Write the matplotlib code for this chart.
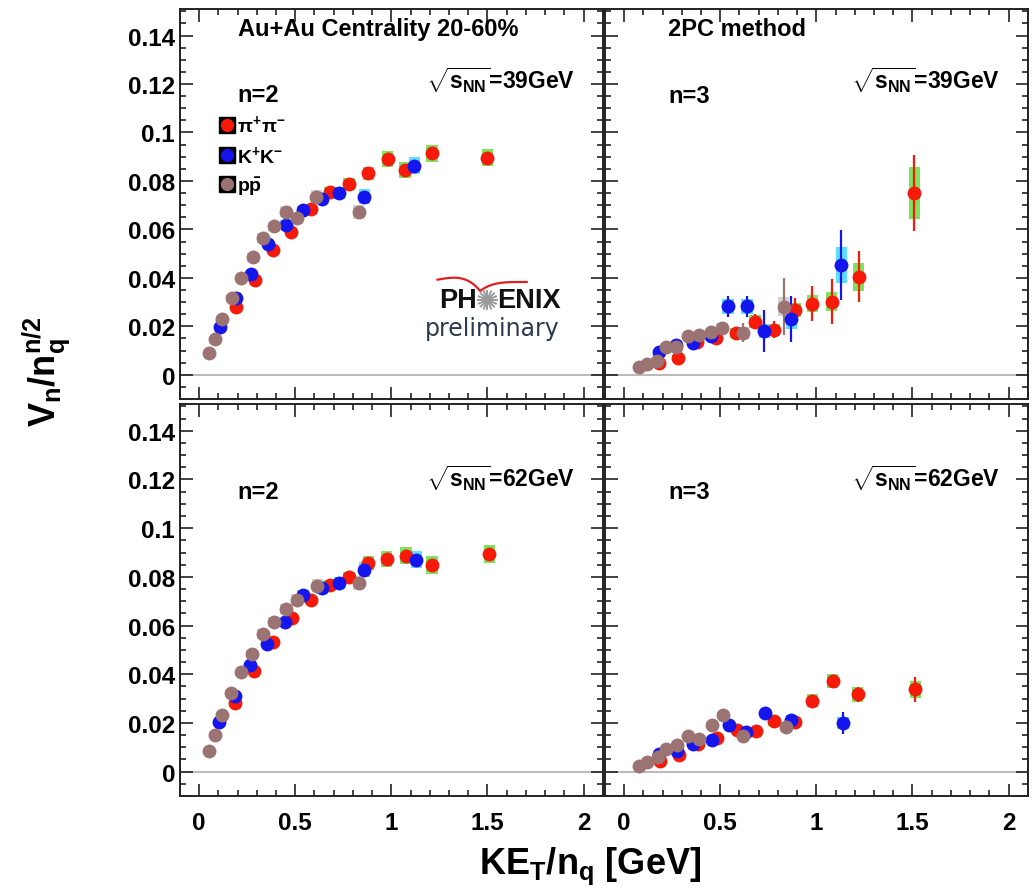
import numpy as np
import matplotlib
matplotlib.use('Agg')
import matplotlib.pyplot as plt
from matplotlib.ticker import MultipleLocator, FuncFormatter
from matplotlib.lines import Line2D
from matplotlib.legend_handler import HandlerTuple

plt.rcParams['font.family'] = ['Liberation Sans', 'DejaVu Sans']
plt.rcParams['font.weight'] = 'bold'
plt.rcParams['mathtext.fontset'] = 'custom'
plt.rcParams['mathtext.rm'] = 'Liberation Sans:bold'
plt.rcParams['mathtext.it'] = 'Liberation Sans:bold'
plt.rcParams['mathtext.bf'] = 'Liberation Sans:bold'

# ---- 39 GeV, n=2 ----
pi39_2_x = [0.19, 0.29, 0.385, 0.48, 0.58, 0.68, 0.78, 0.88, 0.98, 1.07, 1.21, 1.50]
pi39_2_y = [0.0279, 0.0392, 0.0513, 0.0591, 0.0683, 0.0756, 0.0788, 0.0831, 0.0891, 0.0845, 0.0914, 0.0896]
pi39_2_err = [0.0005, 0.0005, 0.0006, 0.0006, 0.0007, 0.0008, 0.0009, 0.001, 0.0012, 0.0014, 0.0018, 0.0025]
pi39_2_sys = [0.001, 0.0012, 0.0014, 0.0016, 0.0018, 0.002, 0.0024, 0.0028, 0.0032, 0.0034, 0.0036, 0.0036]
k39_2_x = [0.11, 0.19, 0.27, 0.36, 0.45, 0.54, 0.64, 0.73, 0.86, 1.12]
k39_2_y = [0.0199, 0.0316, 0.0415, 0.054, 0.062, 0.0678, 0.0726, 0.0749, 0.0735, 0.0863]
k39_2_err = [0.0005, 0.0005, 0.0006, 0.0007, 0.0008, 0.0009, 0.001, 0.0012, 0.0015, 0.002]
k39_2_sys = [0.001, 0.0012, 0.0014, 0.0016, 0.0018, 0.002, 0.0022, 0.0025, 0.003, 0.0035]
p39_2_x = [0.05, 0.08, 0.12, 0.17, 0.22, 0.28, 0.33, 0.39, 0.45, 0.51, 0.61, 0.83]
p39_2_y = [0.0089, 0.0147, 0.0232, 0.0316, 0.0401, 0.0485, 0.0564, 0.0612, 0.0673, 0.0646, 0.0735, 0.0671]
p39_2_err = [0.0004, 0.0005, 0.0005, 0.0006, 0.0006, 0.0007, 0.0008, 0.0009, 0.001, 0.0011, 0.0013, 0.002]
p39_2_sys = [0.0008, 0.001, 0.0012, 0.0014, 0.0016, 0.0018, 0.002, 0.002, 0.0022, 0.0024, 0.0026, 0.003]

# ---- 39 GeV, n=3 ----
pi39_3_x = [0.18, 0.28, 0.38, 0.48, 0.58, 0.68, 0.78, 0.89, 0.98, 1.08, 1.22, 1.51]
pi39_3_y = [0.0048, 0.0071, 0.0135, 0.0151, 0.0172, 0.022, 0.0186, 0.0268, 0.0293, 0.0302, 0.0405, 0.0749]
pi39_3_err = [0.001, 0.0012, 0.0015, 0.002, 0.0025, 0.003, 0.0035, 0.005, 0.0072, 0.0094, 0.0105, 0.0156]
pi39_3_sys = [0.0008, 0.001, 0.0012, 0.0015, 0.002, 0.0025, 0.0025, 0.003, 0.0035, 0.004, 0.0058, 0.0108]
k39_3_x = [0.18, 0.27, 0.36, 0.45, 0.54, 0.64, 0.73, 0.87, 1.13]
k39_3_y = [0.0096, 0.0124, 0.0133, 0.016, 0.0282, 0.0282, 0.0181, 0.023, 0.0454]
k39_3_err = [0.001, 0.0012, 0.0015, 0.002, 0.0044, 0.0044, 0.0087, 0.0094, 0.0144]
k39_3_sys = [0.0008, 0.001, 0.001, 0.0015, 0.003, 0.003, 0.003, 0.004, 0.0075]
p39_3_x = [0.08, 0.12, 0.17, 0.22, 0.27, 0.33, 0.39, 0.45, 0.51, 0.62, 0.83]
p39_3_y = [0.0032, 0.0044, 0.0058, 0.0114, 0.0114, 0.0161, 0.0164, 0.0176, 0.0195, 0.0174, 0.0281]
p39_3_err = [0.0005, 0.0006, 0.0008, 0.001, 0.001, 0.0015, 0.0015, 0.002, 0.0025, 0.004, 0.0117]
p39_3_sys = [0.0005, 0.0006, 0.0008, 0.001, 0.001, 0.0012, 0.0012, 0.0015, 0.002, 0.0025, 0.004]

# ---- 62 GeV, n=2 ----
pi62_2_x = [0.185, 0.285, 0.385, 0.485, 0.58, 0.68, 0.78, 0.88, 0.975, 1.075, 1.21, 1.51]
pi62_2_y = [0.0282, 0.0412, 0.0531, 0.063, 0.0705, 0.0767, 0.0798, 0.0856, 0.0873, 0.0887, 0.0849, 0.0894]
pi62_2_err = [0.0005, 0.0005, 0.0006, 0.0006, 0.0007, 0.0008, 0.0009, 0.001, 0.0012, 0.0014, 0.0018, 0.0025]
pi62_2_sys = [0.001, 0.0012, 0.0014, 0.0016, 0.0018, 0.002, 0.0024, 0.0028, 0.0032, 0.0034, 0.0036, 0.0036]
k62_2_x = [0.105, 0.185, 0.265, 0.355, 0.445, 0.54, 0.64, 0.73, 0.86, 1.13]
k62_2_y = [0.0203, 0.0312, 0.0438, 0.0524, 0.0614, 0.0727, 0.0753, 0.0775, 0.083, 0.0871]
k62_2_err = [0.0005, 0.0005, 0.0006, 0.0007, 0.0008, 0.0009, 0.001, 0.0012, 0.0015, 0.002]
k62_2_sys = [0.001, 0.0012, 0.0014, 0.0016, 0.0018, 0.002, 0.0022, 0.0025, 0.003, 0.0035]
p62_2_x = [0.05, 0.08, 0.12, 0.165, 0.22, 0.275, 0.33, 0.39, 0.45, 0.51, 0.615, 0.83]
p62_2_y = [0.0086, 0.0151, 0.0233, 0.0322, 0.0411, 0.0483, 0.0566, 0.0614, 0.0668, 0.0706, 0.0764, 0.0775]
p62_2_err = [0.0004, 0.0005, 0.0005, 0.0006, 0.0006, 0.0007, 0.0008, 0.0009, 0.001, 0.0011, 0.0013, 0.002]
p62_2_sys = [0.0008, 0.001, 0.0012, 0.0014, 0.0016, 0.0018, 0.002, 0.002, 0.0022, 0.0024, 0.0026, 0.003]

# ---- 62 GeV, n=3 ----
pi62_3_x = [0.185, 0.285, 0.385, 0.485, 0.585, 0.685, 0.78, 0.89, 0.98, 1.085, 1.215, 1.515]
pi62_3_y = [0.0045, 0.0069, 0.0114, 0.0139, 0.0173, 0.0169, 0.0206, 0.0203, 0.0292, 0.0372, 0.0317, 0.0338]
pi62_3_err = [0.0005, 0.0006, 0.0007, 0.0008, 0.001, 0.001, 0.0012, 0.0015, 0.002, 0.0025, 0.003, 0.005]
pi62_3_sys = [0.0006, 0.0008, 0.001, 0.0012, 0.0014, 0.0016, 0.0018, 0.002, 0.0025, 0.003, 0.003, 0.0035]
k62_3_x = [0.18, 0.275, 0.36, 0.455, 0.545, 0.635, 0.735, 0.87, 1.14]
k62_3_y = [0.0073, 0.0086, 0.0114, 0.0128, 0.0192, 0.0162, 0.024, 0.0213, 0.020]
k62_3_err = [0.0006, 0.0007, 0.0008, 0.001, 0.0012, 0.0014, 0.0018, 0.0022, 0.0045]
k62_3_sys = [0.0006, 0.0008, 0.001, 0.0012, 0.0014, 0.0016, 0.0018, 0.002, 0.0025]
p62_3_x = [0.08, 0.12, 0.175, 0.22, 0.275, 0.33, 0.39, 0.455, 0.515, 0.62, 0.84]
p62_3_y = [0.0025, 0.0039, 0.0059, 0.0091, 0.0111, 0.0146, 0.0135, 0.0192, 0.0233, 0.0146, 0.0183]
p62_3_err = [0.0004, 0.0005, 0.0006, 0.0007, 0.0008, 0.001, 0.001, 0.0012, 0.0014, 0.0018, 0.003]
p62_3_sys = [0.0004, 0.0005, 0.0006, 0.0007, 0.0008, 0.001, 0.001, 0.0012, 0.0014, 0.0016, 0.002]

pi_col, pi_sys_col = '#f51a0a', '#6fe04a'
k_col, k_sys_col = '#1515ee', '#48dcff'
p_col, p_sys_col = '#9b7372', '#cccccc'

fig = plt.figure(figsize=(10.34, 8.95), dpi=100)

ax_tl = fig.add_axes([0.174, 0.553, 0.409, 0.436])
ax_tr = fig.add_axes([0.585, 0.553, 0.409, 0.436])
ax_bl = fig.add_axes([0.174, 0.1095, 0.409, 0.438])
ax_br = fig.add_axes([0.585, 0.1095, 0.409, 0.438])


def draw_species(ax, x, y, err, sys, col, sys_col):
    x = np.array(x)
    y = np.array(y)
    sys = np.array(sys)
    ax.bar(x, 2 * sys, bottom=y - sys, width=0.06, color=sys_col, alpha=0.9, zorder=2)
    ax.errorbar(x, y, yerr=err, fmt='none', ecolor=col, elinewidth=1.6, capsize=0, zorder=3)
    ax.plot(x, y, 'o', color=col, ms=10, mec='none', zorder=4)


def style_axis(ax, xlabels=True, ylabels=True):
    ax.set_xlim(-0.1, 2.1)
    ax.set_ylim(-0.01, 0.151)
    ax.axhline(0, color='#bbbbbb', lw=1.5, zorder=1)
    ax.xaxis.set_major_locator(MultipleLocator(0.5))
    ax.xaxis.set_minor_locator(MultipleLocator(0.1))
    ax.yaxis.set_major_locator(MultipleLocator(0.02))
    ax.yaxis.set_minor_locator(MultipleLocator(0.005))
    ax.xaxis.set_major_formatter(FuncFormatter(lambda v, p: f'{v:g}'))
    ax.yaxis.set_major_formatter(FuncFormatter(lambda v, p: f'{v:g}'))
    ax.tick_params(which='both', direction='in', top=True, right=True, width=1.2, color='#222222')
    ax.tick_params(which='major', length=9, labelsize=17.5, pad=3.5)
    ax.tick_params(which='minor', length=4.5)
    ax.tick_params(axis='x', which='major', pad=11)
    ax.tick_params(labelbottom=xlabels, labelleft=ylabels)
    for s in ax.spines.values():
        s.set_linewidth(1.4)
        s.set_color('#222222')


panels = [
    (ax_tl, pi39_2_x, pi39_2_y, pi39_2_err, pi39_2_sys, k39_2_x, k39_2_y, k39_2_err, k39_2_sys,
     p39_2_x, p39_2_y, p39_2_err, p39_2_sys),
    (ax_tr, pi39_3_x, pi39_3_y, pi39_3_err, pi39_3_sys, k39_3_x, k39_3_y, k39_3_err, k39_3_sys,
     p39_3_x, p39_3_y, p39_3_err, p39_3_sys),
    (ax_bl, pi62_2_x, pi62_2_y, pi62_2_err, pi62_2_sys, k62_2_x, k62_2_y, k62_2_err, k62_2_sys,
     p62_2_x, p62_2_y, p62_2_err, p62_2_sys),
    (ax_br, pi62_3_x, pi62_3_y, pi62_3_err, pi62_3_sys, k62_3_x, k62_3_y, k62_3_err, k62_3_sys,
     p62_3_x, p62_3_y, p62_3_err, p62_3_sys),
]

for pan in panels:
    ax = pan[0]
    draw_species(ax, *pan[1:5], pi_col, pi_sys_col)
    draw_species(ax, *pan[5:9], k_col, k_sys_col)
    draw_species(ax, *pan[9:13], p_col, p_sys_col)

style_axis(ax_tl, xlabels=False, ylabels=True)
style_axis(ax_tr, xlabels=False, ylabels=False)
style_axis(ax_bl, xlabels=True, ylabels=True)
style_axis(ax_br, xlabels=True, ylabels=False)

# panel texts
fs = 17
ax_tl.text(0.137, 0.949, 'Au+Au Centrality 20-60%', transform=ax_tl.transAxes, fontsize=fs, va='center')
ax_tr.text(0.149, 0.949, '2PC method', transform=ax_tr.transAxes, fontsize=fs, va='center')
ax_tl.text(0.137, 0.78, 'n=2', transform=ax_tl.transAxes, fontsize=fs, va='center')
ax_tr.text(0.149, 0.777, 'n=3', transform=ax_tr.transAxes, fontsize=fs, va='center')
ax_bl.text(0.137, 0.778, 'n=2', transform=ax_bl.transAxes, fontsize=fs, va='center')
ax_br.text(0.149, 0.778, 'n=3', transform=ax_br.transAxes, fontsize=fs, va='center')
for ax, lab, yy in [(ax_tl, '39', 0.82), (ax_tr, '39', 0.82), (ax_bl, '62', 0.814), (ax_br, '62', 0.814)]:
    ax.text(0.934, yy, r'$\sqrt{s_{NN}}$=' + lab + 'GeV', transform=ax.transAxes,
            fontsize=16.5, ha='right', va='center')

# legend
handles = [
    (Line2D([], [], marker='s', color='black', ms=11, ls=''), Line2D([], [], marker='o', color=pi_col, ms=8.5, ls='')),
    (Line2D([], [], marker='s', color='black', ms=11, ls=''), Line2D([], [], marker='o', color=k_col, ms=8.5, ls='')),
    (Line2D([], [], marker='s', color='black', ms=11, ls=''), Line2D([], [], marker='o', color=p_col, ms=8.5, ls='')),
]
labels = [r'$\pi^{+}\pi^{-}$', r'K$^{+}$K$^{-}$', r'p$\bar{\mathrm{p}}$']
ax_tl.legend(handles, labels, handler_map={tuple: HandlerTuple(ndivide=1)}, loc='upper left',
             bbox_to_anchor=(0.075, 0.757), frameon=False, fontsize=14, handlelength=0.6,
             handletextpad=0.2, labelspacing=0.45, borderpad=0)

# PHENIX preliminary logo
tr = ax_tl.transAxes
ax_tl.text(0.702, 0.254, 'PH', transform=tr, fontsize=19.5, va='center', ha='right', color='#111111')
ax_tl.text(0.750, 0.254, 'ENIX', transform=tr, fontsize=19.5, va='center', ha='left', color='#111111')
ang = np.linspace(0, np.pi, 9)[:-1]
for a in ang:
    ax_tl.plot([0.727 - 0.022 * np.cos(a), 0.727 + 0.022 * np.cos(a)],
               [0.254 - 0.024 * np.sin(a), 0.254 + 0.024 * np.sin(a)],
               transform=tr, color='#9a9a9a', lw=1.4)
ax_tl.text(0.579, 0.163, 'preliminary', transform=tr, fontsize=17, va='baseline', ha='left',
           color='#2b3a4d', family='DejaVu Sans', weight='normal')
t = np.linspace(0, 1, 25)
lx = 0.609 + 0.101 * t
ly = 0.306 + 0.006 * np.sin(np.pi * t) - 0.029 * t ** 4
rx = 0.710 + 0.110 * t
ry = 0.277 + 0.023 * (1 - (1 - t) ** 4)
ax_tl.plot(np.concatenate([lx, rx]), np.concatenate([ly, ry]), transform=tr, color='#e02020', lw=1.6)

fig.text(0.045, 0.585, r'V$_{n}$/n$_{q}^{n/2}$', rotation=90, fontsize=26, ha='center', va='center')
fig.text(0.571, 0.032, r'KE$_{T}$/n$_{q}$ [GeV]', fontsize=26, ha='center', va='center')

fig.savefig('out.png', dpi=100)
